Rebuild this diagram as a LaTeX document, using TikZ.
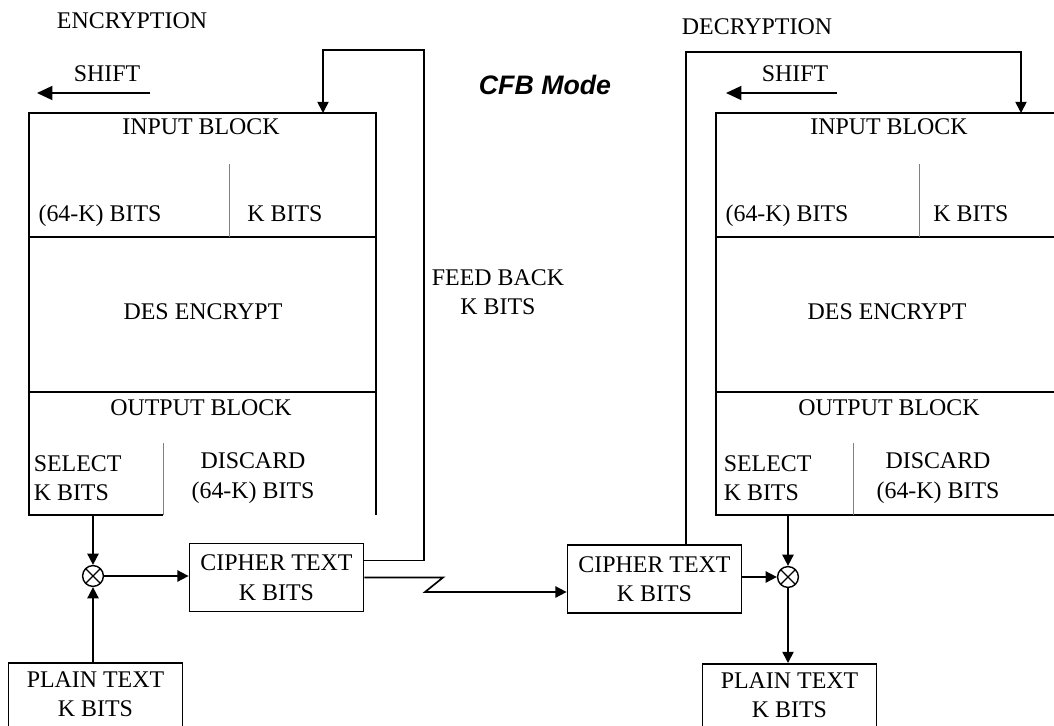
\documentclass[tikz,border=0pt]{standalone}
\usepackage{fontspec}
\setmainfont{Liberation Serif}
\newfontfamily\titlefont{Liberation Sans}
\usetikzlibrary{arrows.meta, calc}

\begin{document}
\begin{tikzpicture}[
  x=0.025cm, y=-0.025cm, line width=1.2pt,
  txt/.style={font=\fontsize{17}{21}\selectfont, inner sep=0pt, align=center},
  box/.style={draw, txt, minimum width=4.35cm, minimum height=1.7cm},
  plainbox/.style={box, anchor=north, inner ysep=6pt, text depth=2cm},
  xor/.style={circle, draw, minimum size=0.52cm, inner sep=0pt, line width=1pt,
              path picture={\draw[line width=0.8pt]
                (path picture bounding box.north west) -- (path picture bounding box.south east)
                (path picture bounding box.north east) -- (path picture bounding box.south west);}},
  arr/.style={-{Triangle[length=8pt, width=8pt]}},
  sharr/.style={-{Triangle[length=11pt, width=10pt]}},
  div/.style={gray, line width=0.6pt}
]
\useasboundingbox (0,0) rectangle (1054,725);
\clip (0,0) rectangle (1054,725);

% Title
\node[font=\titlefont\bfseries\itshape\fontsize{19}{22}\selectfont] (title) at (545,85) {CFB Mode};

% ---------- Encryption side ----------
\node[txt] (encr) at (132,21) {ENCRYPTION};
\node[txt] (shiftL) at (107,74) {SHIFT};
\coordinate (shLa) at (150,93);
\coordinate (shLb) at (37,93);
\draw[sharr] (shLa) -- (shLb);

% shift register / DES / output block
\draw (163,515) -| (29,113) -| (376,515);
\draw (29,237) -- (376,237);
\draw (29,392) -- (376,392);
\draw[div] (229,164) -- (229,237);
\draw[div] (163,443) -- (163,515);
\node[txt] (inBlkL)  at (201,127) {INPUT BLOCK};
\node[txt, anchor=base] (inHiL) at (100,221) {(64-K) BITS};
\node[txt, anchor=base] (inLoL) at (285,221) {K BITS};
\node[txt] (desL)    at (203,312) {DES ENCRYPT};
\node[txt] (outBlkL) at (201,408) {OUTPUT BLOCK};
\node[txt, align=left, anchor=west] (selTxtL) at (33,478) {SELECT\\K BITS};
\node[txt] (discL)   at (253,478) {DISCARD\\(64-K) BITS};

\node[xor] (xorL) at (93,576) {};
\node[box] (cipL) at (276.5,577.5) {CIPHER TEXT\\K BITS};
\node[plainbox] (plainL) at (95.5,662) {PLAIN TEXT\\K BITS};

\coordinate (selL) at (93,515);
\draw[arr] (selL) -- (xorL);
\draw[arr] (plainL.north -| xorL) -- (xorL);
\draw[arr] (xorL) -- (xorL -| cipL.west);

% feed back into the input block
\coordinate (fbL) at (424,50);
\coordinate (inL) at (323,113);
\draw[arr] ($(cipL.east)+(0,-17)$) -| (fbL) -| (inL);
\node[txt] (fbTxt) at (498,292) {FEED BACK\\K BITS};

% ---------- Decryption side ----------
\node[txt] (decr) at (757,27) {DECRYPTION};
\node[txt] (shiftR) at (795,74) {SHIFT};
\coordinate (shRa) at (837,93);
\coordinate (shRb) at (726,93);
\draw[sharr] (shRa) -- (shRb);

\draw (1063,113) -| (716,515) -- (1063,515);
\draw (716,237) -- (1063,237);
\draw (716,392) -- (1063,392);
\draw[div] (919,164) -- (919,237);
\draw[div] (853,443) -- (853,515);
\node[txt] (inBlkR)  at (889,127) {INPUT BLOCK};
\node[txt, anchor=base] (inHiR) at (787,221) {(64-K) BITS};
\node[txt, anchor=base] (inLoR) at (971,221) {K BITS};
\node[txt] (desR)    at (887,312) {DES ENCRYPT};
\node[txt] (outBlkR) at (889,408) {OUTPUT BLOCK};
\node[txt, align=left, anchor=west] (selTxtR) at (723,478) {SELECT\\K BITS};
\node[txt] (discR)   at (938,478) {DISCARD\\(64-K) BITS};

\node[xor] (xorR) at (788,577) {};
\node[box] (cipR) at (654.5,579) {CIPHER TEXT\\K BITS};
\node[plainbox] (plainR) at (789.5,663) {PLAIN TEXT\\K BITS};

\coordinate (selR) at (788,515);
\draw[arr] (selR) -- (xorR);
\draw[arr] (cipR.east |- xorR) -- (xorR);
\draw[arr] (xorR) -- (plainR.north -| xorR);

% channel
\coordinate (zzA) at (443,577.5);
\coordinate (zzB) at (425,592);
\draw[arr] (cipL.east) -- (zzA) -- (zzB) -- (zzB -| cipR.west);

% cipher text fed back on the decryption side
\coordinate (fbR) at (1021,52);
\coordinate (inR) at (1021,113);
\draw[arr] ($(cipR.north)+(31.5,0)$) |- (fbR) -- (inR);
\end{tikzpicture}
\end{document}
